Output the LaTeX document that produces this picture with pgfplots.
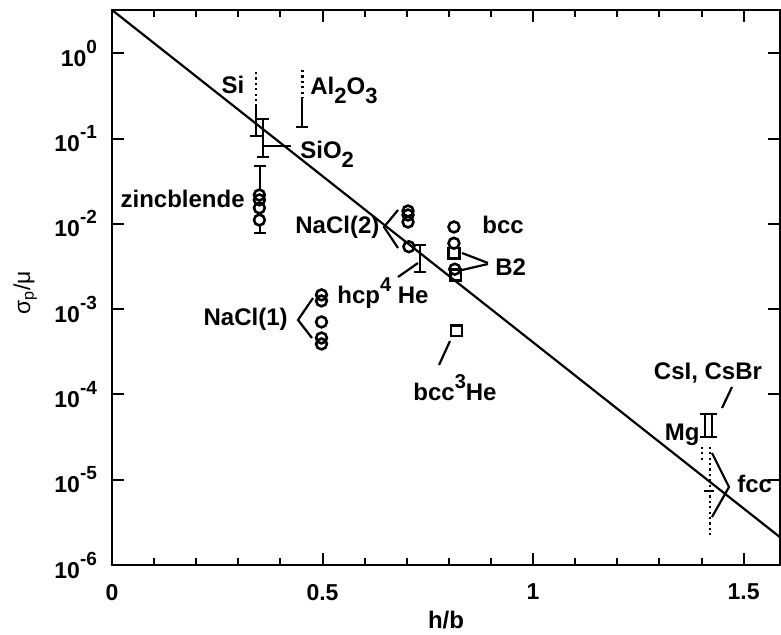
\documentclass[border=0pt]{standalone}
\usepackage{fontspec}
\setmainfont{Liberation Sans}
\usepackage{pgfplots}
\pgfplotsset{compat=1.18}
\newcommand{\dn}[1]{\raisebox{-4.5pt}{\fontsize{11}{11}\selectfont #1}}
\newcommand{\up}[1]{\raisebox{6pt}{\fontsize{10}{10}\selectfont #1}}
\newcommand{\tup}[1]{\raisebox{6.5pt}{\fontsize{9.5}{10}\selectfont #1}}
\begin{document}
\begin{tikzpicture}
\begin{axis}[
  at={(0,0)}, anchor=south west,
  scale only axis, width=334pt, height=277.5pt,
  ymode=log, log basis y=10,
  xmin=0, xmax=1.5863, ymin=1e-6, ymax=3.22,
  axis line style={line width=1.1pt},
  every tick/.style={black, line width=1pt},
  major tick length=6pt, minor tick length=3.5pt,
  xtick={0,0.5,1,1.5}, xticklabels={0,0.5,1,1.5},
  minor x tick num=4,
  ytick={1e-6,1e-5,1e-4,1e-3,1e-2,1e-1,1},
  yticklabels={10\tup{-6},10\tup{-5},10\tup{-4},10\tup{-3},10\tup{-2},10\tup{-1},10\tup{0}},
  yminorticks=false,
  xticklabel style={font=\bfseries\fontsize{11.5}{13}\selectfont, yshift=-6pt},
  yticklabel style={font=\bfseries\fontsize{11.5}{13}\selectfont, xshift=-4pt},
  xlabel={h/b},
  xlabel style={at={(axis description cs:0.5,-0.099)}, anchor=center, font=\bfseries\fontsize{12}{14}\selectfont},
  ylabel={σ\textsubscript{p}/μ},
  ylabel style={at={(axis description cs:-0.130,0.49)}, anchor=center, font=\fontsize{11.5}{13}\selectfont},
  mk/.style={only marks, mark size=2.7pt, mark options={line width=1.3pt, solid}},
  cap/.style={line width=1.1pt, mark=-, mark size=3pt, mark options={line width=1.1pt, solid}},
  dots/.style={line width=1.2pt, dash pattern=on 1.1pt off 1.6pt},
]
% fit line
\addplot[black, line width=1.1pt] coordinates {(0,3.22) (1.5863,2.12e-6)};

% circles
\addplot[mk, mark=o] coordinates {
 (0.350,0.0218) (0.350,0.0191) (0.350,0.0154) (0.350,0.0111)
 (0.4975,0.00147) (0.4975,0.00125) (0.4975,0.000708) (0.4975,0.000459) (0.4975,0.000391)
 (0.703,0.01416) (0.703,0.0127) (0.703,0.01052) (0.705,0.0054)
 (0.812,0.0092) (0.812,0.00593) (0.814,0.00294)
};
% squares
\addplot[mk, mark=square] coordinates {
 (0.812,0.00452) (0.816,0.00252) (0.818,0.00056)
};

% Si
\addplot[dots] coordinates {(0.342,0.604) (0.342,0.235)};
\addplot[cap, mark indices={2}] coordinates {(0.342,0.235) (0.342,0.107)};
% SiO2
\addplot[cap] coordinates {(0.359,0.170) (0.359,0.0608)};
% Al2O3
\addplot[dots] coordinates {(0.452,0.637) (0.452,0.307)};
\addplot[cap, mark indices={2}] coordinates {(0.452,0.307) (0.452,0.137)};
% zincblende bars
\addplot[cap, mark indices={2}] coordinates {(0.351,0.0250) (0.351,0.0477)};
\addplot[cap, mark indices={2}] coordinates {(0.351,0.0097) (0.351,0.00782)};
% hcp 4He
\addplot[cap] coordinates {(0.731,0.00566) (0.731,0.00273)};
% Mg, CsI, CsBr
\addplot[cap, mark size=2.5pt] coordinates {(1.408,5.92e-5) (1.408,3.18e-5)};
\addplot[cap, mark size=2.5pt] coordinates {(1.425,5.92e-5) (1.425,3.18e-5)};
\addplot[dots] coordinates {(1.401,2.43e-5) (1.401,1.57e-5)};
% fcc
\addplot[dots] coordinates {(1.420,2.43e-5) (1.420,2.13e-6)};
\addplot[only marks, mark=-, mark size=2.5pt, mark options={line width=1.1pt, solid}] coordinates {(1.418,7.45e-6)};
\end{axis}

\begin{scope}[x=0.5pt, y=-0.5pt, shift={(-56pt,282.5pt)},
  every node/.style={font=\bfseries\fontsize{12}{14}\selectfont, inner sep=0pt}]
\node[anchor=base] at (233,93) {Si};
\node[anchor=base west] at (310,94) {Al\dn{2}O\dn{3}};
\node[anchor=base west] at (300,158) {SiO\dn{2}};
\node[anchor=base east] at (245,207) {zincblende};
\node[anchor=base west] at (295,233) {NaCl(2)};
\node[anchor=base west] at (337,303) {hcp\up{4} He};
\node[anchor=base east] at (288,325) {NaCl(1)};
\node[anchor=base west] at (482,233) {bcc};
\node[anchor=base west] at (495,275) {B2};
\node[anchor=base west] at (413,400) {bcc\up{3}He};
\node[anchor=base] at (708,379) {CsI, CsBr};
\node[anchor=base east] at (700,440) {Mg};
\node[anchor=base west] at (737,492) {fcc};
\begin{scope}[line width=1.1pt]
\draw (263,146) -- (291,146);
\draw (398,210) -- (384,227) -- (398,248);
\draw (398,277) -- (418,263);
\draw (313,298) -- (298,320) -- (312,338);
\draw (462,253) -- (488,263);
\draw (462,270) -- (488,264);
\draw (450,341) -- (439,365);
\draw (732,387) -- (722,408);
\draw (712,453) -- (729,487) -- (712,517);
\end{scope}
\end{scope}
\pgfresetboundingbox
\path[use as bounding box] (-56pt,-34.5pt) rectangle (334.5pt,282.5pt);
\end{tikzpicture}
\end{document}
